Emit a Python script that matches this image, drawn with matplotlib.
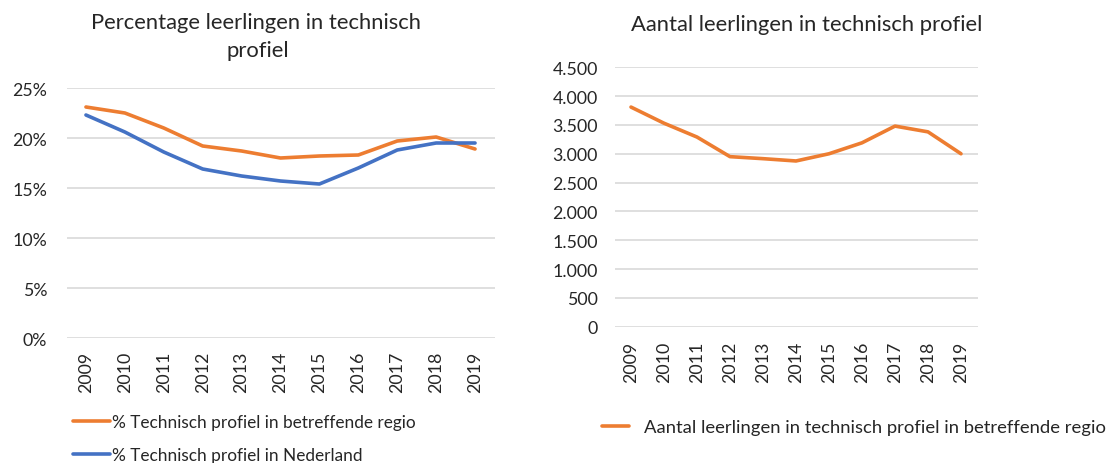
import matplotlib as mpl
from matplotlib import pyplot as plt
from matplotlib.ticker import FuncFormatter

plt.rcParams['font.family'] = ['Lato', 'DejaVu Sans']

years = ['2009', '2010', '2011', '2012', '2013', '2014', '2015', '2016', '2017', '2018', '2019']
pct_regio = [23.1, 22.5, 21.0, 19.2, 18.7, 18.0, 18.2, 18.3, 19.7, 20.1, 18.9]
pct_nl = [22.3, 20.6, 18.6, 16.9, 16.2, 15.7, 15.4, 17.0, 18.8, 19.5, 19.5]
aantal_regio = [3810, 3530, 3290, 2950, 2915, 2875, 3000, 3190, 3480, 3380, 3000]

orange = '#ED7D31'
blue = '#4472C4'
grid = '#D9D9D9'
txt = '#262626'
W, H = 1109, 464

fig = plt.figure(figsize=(W / 100, H / 100), dpi=100)

def px_axes(x0, x1, ytop, ybot):
    return fig.add_axes([x0 / W, 1 - ybot / H, (x1 - x0) / W, (ybot - ytop) / H])

def style(ax, ypad, xpad):
    for s in ax.spines.values():
        s.set_visible(False)
    ax.yaxis.grid(True, color=grid, linewidth=1.2)
    ax.set_axisbelow(True)
    ax.tick_params(axis='both', length=0, labelsize=12.8, colors=txt)
    ax.tick_params(axis='y', pad=ypad)
    ax.tick_params(axis='x', pad=xpad, labelrotation=90)
    ax.set_xlim(-0.5, len(years) - 0.5)
    ax.set_xticks(range(len(years)))
    ax.set_xticklabels(years)

# left chart
ax1 = px_axes(66.5, 494.5, 89, 339)
l1, = ax1.plot(range(len(years)), pct_regio, color=orange, lw=2.6, solid_capstyle='round')
l2, = ax1.plot(range(len(years)), pct_nl, color=blue, lw=2.6, solid_capstyle='round')
ax1.set_ylim(0, 25)
ax1.set_yticks([0, 5, 10, 15, 20, 25])
ax1.yaxis.set_major_formatter(FuncFormatter(lambda v, p: '%d%%' % v))
style(ax1, 14, 9)
fig.text(256 / W, 1 - 23 / H, 'Percentage leerlingen in technisch', ha='center', va='center', fontsize=15.8, color=txt)
fig.text(258 / W, 1 - 51 / H, 'profiel', ha='center', va='center', fontsize=15.8, color=txt)
ax1.legend([l1, l2], ['% Technisch profiel in betreffende regio', '% Technisch profiel in Nederland'],
           loc='center left', bbox_to_anchor=(73 / W, 1 - 439.5 / H), bbox_transform=fig.transFigure,
           frameon=False, fontsize=12.4, handlelength=2.15, handletextpad=0.1, labelspacing=1.0,
           borderpad=0, borderaxespad=0, labelcolor=txt)

# right chart
ax2 = px_axes(614.5, 977.5, 68.3, 327.7)
l3, = ax2.plot(range(len(years)), aantal_regio, color=orange, lw=2.6, solid_capstyle='round')
ax2.set_ylim(0, 4500)
ax2.set_yticks(range(0, 4501, 500))
ax2.yaxis.set_major_formatter(FuncFormatter(lambda v, p: '{:,.0f}'.format(v).replace(',', '.')))
style(ax2, 12, 10)
fig.text(807 / W, 1 - 25 / H, 'Aantal leerlingen in technisch profiel', ha='center', va='center', fontsize=15.8, color=txt)
ax2.legend([l3], ['Aantal leerlingen in technisch profiel in betreffende regio'],
           loc='center left', bbox_to_anchor=(602 / W, 1 - 428 / H), bbox_transform=fig.transFigure,
           frameon=False, fontsize=13.3, handlelength=1.45, handletextpad=0.8,
           borderpad=0, borderaxespad=0, labelcolor=txt)

fig.savefig('out.png', dpi=100)
